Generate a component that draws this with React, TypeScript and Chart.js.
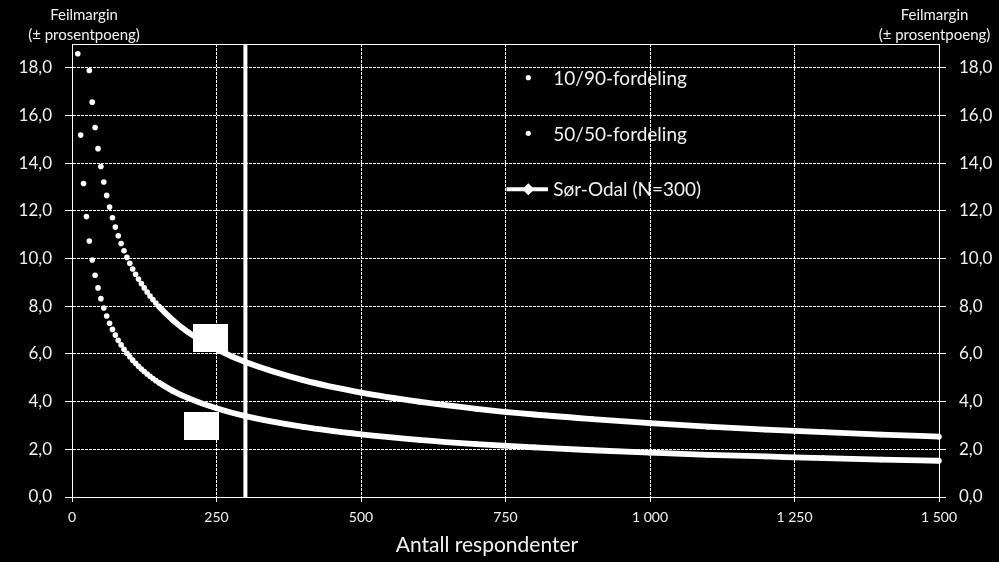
import React, { useEffect, useRef } from 'react';
import { Chart, registerables } from 'chart.js';

Chart.register(...registerables);

const FONT = 'Lato, "Open Sans", sans-serif';

// Number of respondents (x)
const sampleSizes = [
  10, 15, 20, 25, 30, 35, 40, 45, 50, 55, 60, 65, 70, 75, 80, 85, 90, 95, 100,
  105, 110, 115, 120, 125, 130, 135, 140, 145, 150, 175, 200, 250, 300, 400, 500,
  600, 700, 800, 900, 1000, 1100, 1200, 1300, 1400, 1500,
];
// Margin of error (± percentage points), 10/90 split
const margin1090 = [
  18.59, 15.18, 13.15, 11.76, 10.74, 9.94, 9.3, 8.77, 8.32, 7.93, 7.59, 7.29, 7.03, 6.79, 6.57, 6.38, 6.2, 6.03, 5.88,
  5.74, 5.61, 5.48, 5.37, 5.26, 5.16, 5.06, 4.97, 4.88, 4.8, 4.44, 4.16, 3.72, 3.39, 2.94, 2.63,
  2.4, 2.22, 2.08, 1.96, 1.86, 1.77, 1.7, 1.63, 1.57, 1.52,
];
// Margin of error (± percentage points), 50/50 split
const margin5050 = [
  30.99, 25.3, 21.91, 19.6, 17.89, 16.56, 15.5, 14.61, 13.86, 13.21, 12.65, 12.16, 11.71, 11.32, 10.96, 10.63, 10.33, 10.05, 9.8,
  9.56, 9.34, 9.14, 8.95, 8.77, 8.6, 8.43, 8.28, 8.14, 8.0, 7.41, 6.93, 6.2, 5.66, 4.9, 4.38,
  4.0, 3.7, 3.46, 3.27, 3.1, 2.95, 2.83, 2.72, 2.62, 2.53,
];
// Sør-Odal marker line
const sorOdalN = [300, 300];
const sorOdalY = [0, 19];
// White label boxes
const boxN = [239, 224];
const boxY = [6.66, 2.97];

const legendLabels = ['10/90-fordeling', '50/50-fordeling', 'Sør-Odal (N=300)'];
const yTitleLines = ['Feilmargin', '(± prosentpoeng)'];
const xTitle = 'Antall respondenter';

const fmtY = (v: number) => Number(v).toFixed(1).replace('.', ',');
const fmtX = (v: number) => {
  const n = Number(v);
  if (n >= 1000) return Math.floor(n / 1000) + ' ' + String(n % 1000).padStart(3, '0');
  return String(n);
};

const overlayPlugin = {
  id: 'overlay',
  afterDraw(chart: any) {
    const { ctx, chartArea: a } = chart;
    ctx.save();
    // top frame line
    ctx.strokeStyle = '#fff';
    ctx.lineWidth = 1;
    ctx.beginPath();
    ctx.moveTo(a.left, Math.round(a.top) + 0.5);
    ctx.lineTo(a.right, Math.round(a.top) + 0.5);
    ctx.stroke();

    ctx.fillStyle = '#f2f2f2';
    ctx.textAlign = 'center';
    ctx.textBaseline = 'alphabetic';
    ctx.font = `15px ${FONT}`;
    ctx.fillText(yTitleLines[0], 84, 20);
    ctx.fillText(yTitleLines[1], 84, 39.5);
    ctx.fillText(yTitleLines[0], 934.5, 20);
    ctx.fillText(yTitleLines[1], 934.5, 39.5);

    ctx.font = `21px ${FONT}`;
    ctx.fillText(xTitle, 487, 551.5);

    // legend
    ctx.fillStyle = '#fff';
    ctx.beginPath();
    ctx.arc(528.3, 77.7, 2.6, 0, Math.PI * 2);
    ctx.fill();
    ctx.beginPath();
    ctx.arc(528.3, 133.3, 2.6, 0, Math.PI * 2);
    ctx.fill();
    ctx.strokeStyle = '#fff';
    ctx.lineWidth = 4;
    ctx.beginPath();
    ctx.moveTo(506.5, 189.3);
    ctx.lineTo(548, 189.3);
    ctx.stroke();
    ctx.beginPath();
    ctx.moveTo(528.3, 183.3);
    ctx.lineTo(534.3, 189.3);
    ctx.lineTo(528.3, 195.3);
    ctx.lineTo(522.3, 189.3);
    ctx.closePath();
    ctx.fill();

    ctx.fillStyle = '#f2f2f2';
    ctx.textAlign = 'left';
    ctx.font = `19px ${FONT}`;
    ctx.fillText(legendLabels[0], 553.3, 85);
    ctx.fillText(legendLabels[1], 553.3, 140.5);
    ctx.fillText(legendLabels[2], 553.3, 196);
    ctx.restore();
  },
};

export default function App() {
  const ref = useRef<HTMLCanvasElement | null>(null);

  useEffect(() => {
    if (!ref.current) return;
    const box = document.createElement('canvas');
    box.width = 35;
    box.height = 28;
    const bctx = box.getContext('2d')!;
    bctx.fillStyle = '#fff';
    bctx.fillRect(0, 0, 35, 28);

    const curveSegment = {
      borderColor: (c: any) => (c.p0.parsed.x >= 150 ? '#fff' : 'rgba(0,0,0,0)'),
    };
    const curveClip = { left: 6, top: 0, right: 6, bottom: 6 };

    const tickFontY = { family: FONT, size: 17 };

    const chart = new Chart(ref.current, {
      type: 'line',
      data: {
        datasets: [
          {
            label: legendLabels[0],
            data: sampleSizes.map((n, i) => ({ x: n, y: margin1090[i] })),
            borderColor: '#fff',
            backgroundColor: '#fff',
            borderWidth: 5.8,
            pointRadius: 2.8,
            pointBorderWidth: 0,
            pointBackgroundColor: '#fff',
            cubicInterpolationMode: 'monotone',
            segment: curveSegment,
            clip: curveClip,
            fill: false,
          } as any,
          {
            label: legendLabels[1],
            data: sampleSizes.map((n, i) => ({ x: n, y: margin5050[i] })),
            borderColor: '#fff',
            backgroundColor: '#fff',
            borderWidth: 5.8,
            pointRadius: 2.8,
            pointBorderWidth: 0,
            pointBackgroundColor: '#fff',
            cubicInterpolationMode: 'monotone',
            segment: curveSegment,
            clip: curveClip,
            fill: false,
          } as any,
          {
            label: legendLabels[2],
            data: sorOdalN.map((n, i) => ({ x: n, y: sorOdalY[i] })),
            borderColor: '#fff',
            backgroundColor: '#fff',
            borderWidth: 4,
            pointRadius: 0,
            pointStyle: 'rectRot',
            fill: false,
          },
          {
            label: 'boxes',
            data: boxN.map((n, i) => ({ x: n, y: boxY[i] })),
            showLine: false,
            pointStyle: box as any,
            pointRadius: 14,
            borderWidth: 0,
          },
        ],
      },
      options: {
        responsive: false,
        maintainAspectRatio: false,
        animation: false,
        layout: { padding: { top: 44, left: 0, right: 0, bottom: 0 } },
        plugins: {
          legend: { display: false },
          tooltip: { enabled: false },
          title: { display: false },
        },
        scales: {
          x: {
            type: 'linear',
            min: 0,
            max: 1500,
            ticks: {
              stepSize: 250,
              color: '#f2f2f2',
              font: { family: FONT, size: 14 },
              padding: 7,
              maxRotation: 0,
              autoSkip: false,
              callback: (v: any) => fmtX(v),
            },
            grid: { color: '#fff', lineWidth: 1, tickLength: 5, tickColor: '#fff' },
            border: { display: true, color: '#fff', width: 1, dash: [3, 1] },
            afterFit: (s: any) => {
              s.height = 65;
            },
          },
          y: {
            position: 'left',
            min: 0,
            max: 19,
            ticks: {
              stepSize: 2,
              includeBounds: false,
              color: '#f2f2f2',
              font: tickFontY,
              padding: 13,
              callback: (v: any) => fmtY(v),
            },
            grid: { color: '#fff', lineWidth: 1, tickLength: 7, tickColor: '#fff' },
            border: { display: true, color: '#fff', width: 1, dash: [3, 1] },
            afterFit: (s: any) => {
              s.width = 72;
            },
          },
          y2: {
            position: 'right',
            min: 0,
            max: 19,
            ticks: {
              stepSize: 2,
              includeBounds: false,
              color: '#f2f2f2',
              font: tickFontY,
              padding: 13,
              callback: (v: any) => fmtY(v),
            },
            grid: { drawOnChartArea: false, color: '#fff', lineWidth: 1, tickLength: 7, tickColor: '#fff' },
            border: { display: true, color: '#fff', width: 1 },
            afterFit: (s: any) => {
              s.width = 60;
            },
          },
        },
      } as any,
      plugins: [overlayPlugin],
    });
    return () => chart.destroy();
  }, []);

  return (
    <div style={{ position: 'absolute', left: 0, top: 0, width: 999, height: 562, background: '#000' }}>
      <canvas ref={ref} width={999} height={562} style={{ display: 'block' }} />
    </div>
  );
}
